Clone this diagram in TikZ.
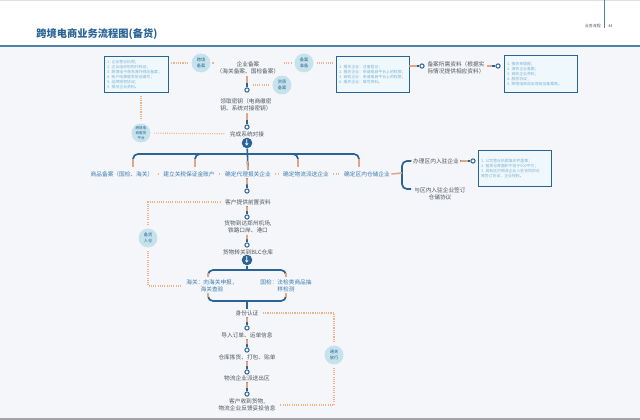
\documentclass[tikz,border=0pt]{standalone}
\usepackage{fontspec}
\setmainfont{Noto Sans CJK SC}
\usetikzlibrary{positioning,calc}
\definecolor{pagebg}{HTML}{F5F6FA}
\definecolor{deepblue}{HTML}{2A6496}
\definecolor{barblue}{HTML}{4F83A6}
\definecolor{stemorange}{HTML}{E3A585}
\definecolor{dotorange}{HTML}{EDB48C}
\definecolor{labelgray}{HTML}{50565E}
\definecolor{labelblue}{HTML}{3C7CB0}
\definecolor{listblue}{HTML}{7DB2D2}
\definecolor{discblue}{HTML}{C6E3EC}
\definecolor{boxfill}{HTML}{EFF8FC}
\begin{document}
\begin{tikzpicture}
[x=0.025cm,y=-0.025cm,
 label/.style={text=labelgray,font=\fontsize{4.05}{5.2}\selectfont,align=center,inner sep=1pt},
 bluelabel/.style={label,text=labelblue},
 listbox/.style={shape=rectangle,draw=deepblue,line width=0.6pt,fill=boxfill,text=listblue,font=\fontsize{2.75}{3.55}\selectfont,align=left,inner sep=2pt},
 disc/.style={shape=circle,fill=discblue,text=deepblue,minimum size=13.5pt,inner sep=0pt,align=center,font=\fontsize{3}{3.8}\selectfont},
 ring/.style={shape=circle,draw=deepblue,fill=white,line width=0.7pt,minimum size=3pt,inner sep=0pt},
 hub/.style={shape=circle,fill=deepblue,text=white,minimum size=7.5pt,inner sep=0pt,font=\fontsize{5}{5}\selectfont\bfseries},
 stem/.style={draw=deepblue,line width=1.1pt},
 stemtop/.style={draw=stemorange,line width=1.1pt},
 dotline/.style={draw=dotorange,line width=0.8pt,dash pattern=on 0.8pt off 0.8pt,shorten <=2pt,shorten >=2pt},
 branch/.style={stem,line width=1.2pt,rounded corners=3.5pt}]
\useasboundingbox (0,0) rectangle (640,420);
\fill[white] (0,0) rectangle (640,46);
\fill[pagebg] (0,46) rectangle (640,420);
\fill[black!12] (0,0) rectangle (640,1);
\fill[black!35] (0,418) rectangle (640,420);
\fill[barblue] (0,45) rectangle (640,47.5);
\draw[barblue,line width=0.4pt] (604,0) -- (604,28);
% title and page mark
\node[anchor=west,inner sep=0pt,text=deepblue,font=\fontsize{7.3}{8}\selectfont\bfseries] (title) at (36,34) {跨境电商业务流程图(备货)};
\node[anchor=east,inner sep=0pt,text=labelgray,font=\fontsize{2.8}{3}\selectfont] (part) at (601,26) {业务流程};
\node[anchor=west,inner sep=0pt,text=labelgray,font=\fontsize{2.8}{3}\selectfont] (pageno) at (608,26) {44};
% lists
\node[listbox,minimum width=45.5pt,minimum height=25.5pt,text width=41pt] (list1) at (136,74.5) {1.\ 企业营业执照；\\2.\ 企业组织机构代码证；\\3.\ 跨境电子商务海外网站备案；\\4.\ 账户结算服务协议编号；\\5.\ 品牌授权协议；\\6.\ 报关企业资料。};
\node[listbox,minimum width=52pt,minimum height=25.5pt,text width=47.5pt] (list2) at (372.5,74.5) {1.\ 报关企业：注册登记；\\2.\ 报关企业：申请电商平台上的权限；\\3.\ 商检企业：申请电商平台上的权限；\\4.\ 报关企业：填写资料。};
\node[listbox,minimum width=52pt,minimum height=26pt,text width=47.5pt] (list3) at (540.5,74) {1.\ 报关单填报；\\2.\ 海关企业备案；\\3.\ 商检企业资料；\\4.\ 服务协议；\\5.\ 跨境电商进出境商品备案表。};
\node[listbox,minimum width=52pt,minimum height=26pt,text width=47.5pt] (list4) at (514.5,168.5) {1.\ 公司营业执照复印件盖章；\\2.\ 租赁仓库面积不低于500平方；\\3.\ 具有区内物流企业入驻合同的仓\\库签订协议，企业授权。};
% main line
\node[label] (filing) at (248,68) {企业备案\\（海关备案、国检备案）};
\node[ring] (r1) at (247,90) {};
\node[label] (keys) at (246,105) {领取密钥（电商缴密\\钥、系统对接密钥）};
\node[ring] (r2) at (247,127) {};
\node[label] (dock) at (247,134) {完成系统对接};
\node[hub] (h1) at (247,143) {↓};
\node[bluelabel] (goods) at (122,174) {商品备案（国检、海关）};
\node[bluelabel] (bond) at (189,174) {建立关税保证金账户};
\node[bluelabel] (agent) at (248,174) {确定代理报关企业};
\node[bluelabel] (express) at (306,174) {确定物流派送企业};
\node[bluelabel] (store) at (367,174) {确定区内仓储企业};
\node[ring] (r3) at (247,191) {};
\node[label] (advance) at (248,202) {客户提供前置资料};
\node[ring] (r4) at (247,217) {};
\node[label] (arrive) at (248,227) {货物到达郑州机场,\\铁路口岸、港口};
\node[ring] (r5) at (247,245) {};
\node[label] (blc) at (248,252) {货物转关到BLC仓库};
\node[hub] (h2) at (247,260) {↓};
\node[bluelabel] (customs) at (212,286) {海关：向海关申报，\\海关查验};
\node[bluelabel] (inspect) at (286,286) {国检：法检类商品抽\\样检测};
\node[label] (identity) at (247,313) {身份认证};
\node[ring] (r6) at (247,328) {};
\node[label] (order) at (247,335) {导入订单、运单信息};
\node[ring] (r7) at (247,350) {};
\node[label] (pack) at (247,357) {仓库拣货、打包、贴单};
\node[ring] (r8) at (247,372) {};
\node[label] (deliver) at (247,378) {物流企业派送出区};
\node[ring] (r9) at (247,394) {};
\node[label] (receive) at (247,405) {客户收到货物,\\物流企业反馈妥投信息};
% side nodes
\node[label,align=left] (papers) at (456,67.5) {备案所需资料（根据实\\际情况提供相应资料）};
\node[ring] (r10) at (422,66) {};
\node[ring] (r11) at (498,66) {};
\node[label] (enter) at (436,161) {办理区内入驻企业};
\node[label] (sign) at (440,193.5) {与区内入驻企业签订\\仓储协议};
\node[ring] (r12) at (473,161) {};
% discs
\node[disc] (d1) at (201,63) {跨境\\备案};
\node[disc] (d2) at (304,63) {备案\\准备};
\node[disc] (d3) at (282,85) {资质\\备案};
\node[disc,font=\fontsize{2.6}{3.3}\selectfont] (d4) at (141,133) {跨境电\\商服务\\平台};
\node[disc] (d5) at (148,238) {备货\\入仓};
\node[disc] (d6) at (334,355) {通关\\放行};
% pins
\foreach \a/\b in {filing/r1,keys/r2,store/r3,advance/r4,arrive/r5,identity/r6,order/r7,pack/r8,deliver/r9}{
  \draw[stem] (\b.north |- \a.south) -- (\b);
  \draw[stemtop] (\b.north |- \a.south) -- ($(\b.north |- \a.south)!.6!(\b.north)$);
}
\draw[stem] (h1) -- (agent.north);
\draw[stemtop] (247,161) -- (agent.north);
\draw[stem] (h2) -- (247,270);
\draw[stem] (247,301) -- (identity.north);
\draw[stem] (list2.east |- r10) -- (r10);
\draw[stemtop] (list2.east |- r10) -- ($(list2.east |- r10)!.6!(r10)$);
\draw[stem] (r11) -- ($(r11)+(-11,0)$);
\draw[stemtop] ($(r11)+(-11,0)$) -- ($(r11)+(-6,0)$);
\draw[stem] (r12) -- (enter.east |- r12);
\draw[stemtop] (enter.east |- r12) -- ($(enter.east |- r12)!.6!(r12)$);
% branches
\coordinate (b1) at (133,167);
\coordinate (b2) at (195,167);
\coordinate (b4) at (298,167);
\coordinate (b5) at (359,167);
\draw[branch] (133,160) |- (247,154) -| (359,160);
\draw[branch] (195,160) |- (205,154);
\draw[branch] (298,160) |- (288,154);
\foreach \b in {b1,b2,b4,b5}{
  \draw[stemtop] (\b |- 0,159) -- (\b);
}
\draw[branch] (411,161) -| (402,175) |- (411,189);
\draw[stemtop] (store.east) -- (402,173);
\draw[stemtop] (enter.west) -- (411,161);
\draw[branch] (208,276) |- (247,270) -| (286,276);
\draw[branch] (208,295) |- (247,301) -| (286,295);
\draw[stemtop] (208,273) -- (208,277);
\draw[stemtop] (286,273) -- (286,277);
\draw[stemtop] (208,293) -- (208,297);
\draw[stemtop] (286,293) -- (286,297);
% dotted links
\draw[dotline] (list1.east |- d1) -- (d1);
\draw[dotline] (d1) -- (filing.north west |- d1);
\draw[dotline] (filing.north east |- d2) -- (d2);
\draw[dotline] (d2) -- (list2.west |- d2);
\draw[dotline] (d3) -- (r1.east |- d3);
\draw[dotline] (list1.south -| d4) -- (d4);
\draw[dotline] (d4) -- (dock);
\draw[dotline] (goods) -- (bond);
\draw[dotline] (bond) -- (agent);
\draw[dotline] (agent) -- (express);
\draw[dotline] (express) -- (store);
\draw[dotline] (advance) -| (d5);
\draw[dotline] (d5) |- (customs);
\draw[dotline] (identity) -| (d6);
\draw[dotline] (d6) |- (receive);
\end{tikzpicture}
\end{document}
